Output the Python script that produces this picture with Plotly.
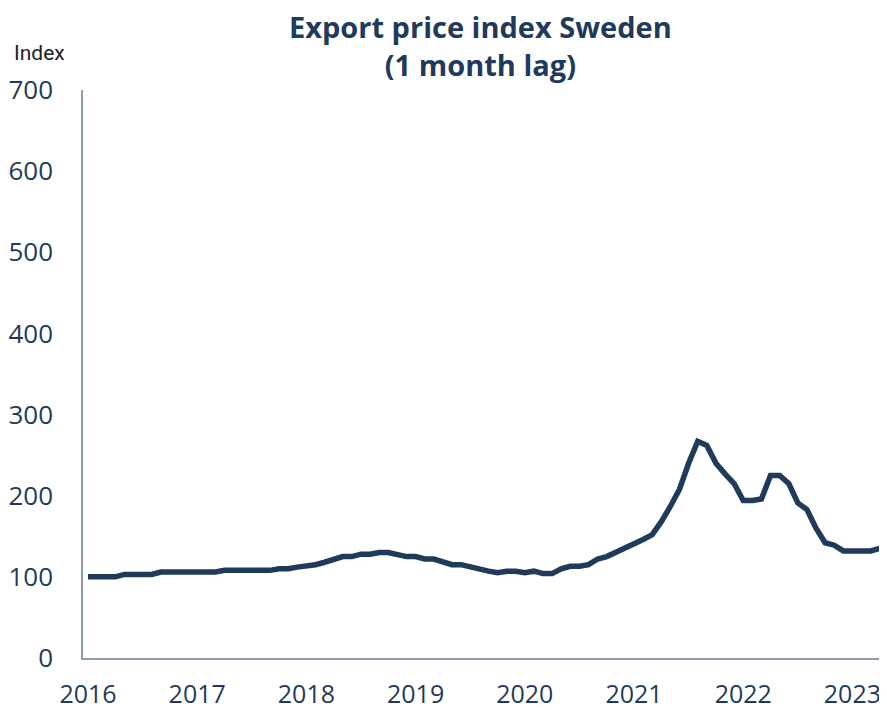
import plotly.graph_objects as go

months = [f"{2016 + i // 12}-{i % 12 + 1:02d}" for i in range(88)]
values = [
    100, 100, 100, 100, 103, 103, 103, 103, 106, 106, 106, 106,   # 2016
    106, 106, 106, 108, 108, 108, 108, 108, 108, 110, 110, 112,   # 2017
    113, 115, 118, 122, 125, 125, 128, 128, 130, 130, 128, 125,   # 2018
    125, 122, 122, 119, 115, 115, 112, 110, 107, 105, 107, 107,   # 2019
    105, 107, 104, 104, 110, 113, 113, 115, 122, 125, 130, 135,   # 2020
    140, 146, 152, 168, 187, 208, 240, 267, 262, 240, 227, 215,   # 2021
    194, 194, 196, 225, 225, 215, 191, 183, 160, 142, 139, 132,   # 2022
    132, 132, 132, 135,                                           # 2023
]
year_ticks = [f"{y}-01" for y in range(2016, 2024)]
year_labels = [str(y) for y in range(2016, 2024)]

navy = "#1f3a5a"
axis_col = "#8e9cab"

fig = go.Figure()
fig.add_trace(go.Scatter(x=months, y=values, mode="lines",
                         line=dict(color=navy, width=5.5), hoverinfo="x+y"))

# page body has an 8px margin, so the figure is sized to fit the 887x710 window
fig.update_layout(
    width=879, height=702,
    margin=dict(l=75, r=0, t=82, b=52, autoexpand=False),
    paper_bgcolor="white", plot_bgcolor="white",
    showlegend=False,
    font=dict(family="Open Sans", color=navy),
)
fig.update_xaxes(type="category", categoryorder="array", categoryarray=months,
                 range=[-0.55, 87.8], tickmode="array",
                 tickvals=year_ticks, ticktext=year_labels,
                 showline=True, linecolor=axis_col, linewidth=1.5,
                 showgrid=False, zeroline=False, ticks="",
                 ticklabelstandoff=13,
                 tickfont=dict(family="Open Sans", size=25, color=navy))
fig.update_yaxes(range=[0, 700], dtick=100, tick0=0,
                 showline=True, linecolor=axis_col, linewidth=1.5,
                 showgrid=False, zeroline=False, ticks="",
                 ticklabelstandoff=23,
                 tickfont=dict(family="Open Sans", size=26, color=navy))
fig.add_annotation(text="<b>Export price index Sweden<br>(1 month lag)</b>",
                   xref="paper", yref="paper", x=0.495, y=1.078,
                   xanchor="center", yanchor="middle", showarrow=False,
                   font=dict(family="Open Sans", size=29, color=navy))
fig.add_annotation(text="Index", xref="paper", yref="paper",
                   x=-0.0883, y=1.065, xanchor="left", yanchor="middle",
                   showarrow=False,
                   font=dict(family="Roboto", size=21, color="#222222"))

fig.write_html("out.html")
